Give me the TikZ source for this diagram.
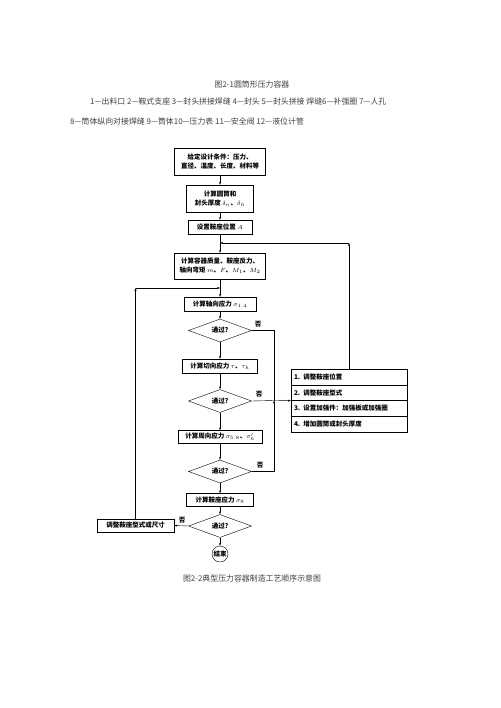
\documentclass[tikz,border=0pt]{standalone}
\usepackage{fontspec}
\setmainfont{Noto Sans CJK SC}
\usepackage{amsmath}
\usetikzlibrary{arrows.meta,shapes.geometric}

\begin{document}
\begin{tikzpicture}[x=1pt,y=-1pt,
    box/.style={draw,inner sep=1pt,align=center,font=\fontsize{6.5}{9}\selectfont\bfseries},
    test/.style={draw,diamond,aspect=2.7,minimum width=63pt,minimum height=23pt,inner sep=0pt,font=\fontsize{6.5}{8}\selectfont\bfseries},
    rowbox/.style={draw,minimum width=116pt,minimum height=15.75pt,inner sep=3pt,text width=110pt,align=left,font=\fontsize{6.5}{8}\selectfont\bfseries},
    arr/.style={-{Stealth[length=3pt,width=2pt]}},
    notext/.style={font=\fontsize{6.5}{8}\selectfont\bfseries,inner sep=0pt},
    captext/.style={font=\fontsize{7.9}{9}\selectfont,inner sep=0pt,text=black!75}]
    \useasboundingbox (0,0) rectangle (500,708);
    \node[captext] (t1) at (252,84) {图2-1圆筒形压力容器};
    \node[captext,anchor=west] (t2) at (90,102) {1—出料口\ 2—鞍式支座\ 3—封头拼接焊缝\ 4—封头\ 5—封头拼接\ 焊缝6—补强圈\ 7—人孔};
    \node[captext,anchor=west] (t3) at (70,121) {8—筒体纵向对接焊缝\ 9—筒体10—压力表\ 11—安全阀\ 12—液位计管};

    \node[box,minimum width=91pt,minimum height=27pt] (b1) at (220,161.5) {给定设计条件：压力、\\直径、温度、长度、材料等};
    \node[box,minimum width=67pt,minimum height=27pt] (b2) at (220,198.5) {计算圆筒和\\封头厚度 $\delta_n$、$\delta_h$};
    \node[box,minimum width=64pt,minimum height=14pt] (b3) at (220,227) {设置鞍座位置 $A$};
    \node[box,minimum width=91pt,minimum height=26pt] (b4) at (220,266) {计算容器质量、鞍座反力、\\轴向弯矩 $m$、$F$、$M_1$、$M_2$};
    \node[box,minimum width=72pt,minimum height=14pt] (b5) at (220,304) {计算轴向应力 $\sigma_{1.4}$};
    \node[test] (d1) at (220,330.5) {通过?};
    \node[box,minimum width=75pt,minimum height=14pt] (b6) at (220,366) {计算切向应力 $\tau$、$\tau_h$};
    \node[test] (d2) at (220,401) {通过?};
    \node[box,minimum width=84pt,minimum height=13pt] (b7) at (220,437) {计算周向应力 $\sigma_{5.8}$、$\sigma_6'$};
    \node[test] (d3) at (220,471.5) {通过?};
    \node[box,minimum width=67pt,minimum height=13pt] (b8) at (220,500) {计算鞍座应力 $\sigma_9$};
    \node[test] (d4) at (220,526) {通过?};
    \node[draw,circle,minimum size=16pt,inner sep=0pt,font=\fontsize{6.5}{8}\selectfont\bfseries] (end) at (220,554) {结束};
    \node[box,minimum width=77pt,minimum height=13pt] (adj) at (135.5,525.5) {调整鞍座型式或尺寸};

    \node[rowbox] (r1) at (349,376.9) {1. 调整鞍座位置};
    \node[rowbox] (r2) at (349,392.6) {2. 调整鞍座型式};
    \node[rowbox] (r3) at (349,408.4) {3. 设置加强件：加强板或加强圈};
    \node[rowbox] (r4) at (349,424.1) {4. 增加圆筒或封头厚度};

    \coordinate (m1) at (220,243);
    \coordinate (m2) at (220,288);
    \coordinate (m3) at (274,400.5);
    \coordinate (up) at (349,243);
    \coordinate (lf) at (135.5,288);

    \draw[arr] (b1) -- (b2);
    \draw[arr] (b2) -- (b3);
    \draw[arr] (b3) -- (b4);
    \draw[arr] (b4) -- (b5);
    \draw[arr] (b5) -- (d1);
    \draw[arr] (d1) -- (b6);
    \draw[arr] (b6) -- (d2);
    \draw[arr] (d2) -- (b7);
    \draw[arr] (b7) -- (d3);
    \draw[arr] (d3) -- (b8);
    \draw[arr] (b8) -- (d4);
    \draw[arr] (d4) -- (end);

    \draw (d1.east) -| (m3);
    \draw[arr] (d3.east) -| (m3);
    \draw[arr] (d2.east) -- (m3) -- (r2.south west);
    \draw[arr] (r1.north) -- (up);
    \draw[arr] (up) -- (m1);
    \draw[arr] (d4.west) -- (adj.east);
    \draw[arr] (adj.north) -- (lf);
    \draw[arr] (lf) -- (m2);

    \node[notext] (n1) at (258,324) {否};
    \node[notext] (n2) at (259,394) {否};
    \node[notext] (n3) at (260,465) {否};
    \node[notext] (n4) at (182,520) {否};

    \node[captext] (t4) at (252,578) {图2-2典型压力容器制造工艺顺序示意图};
\end{tikzpicture}
\end{document}
